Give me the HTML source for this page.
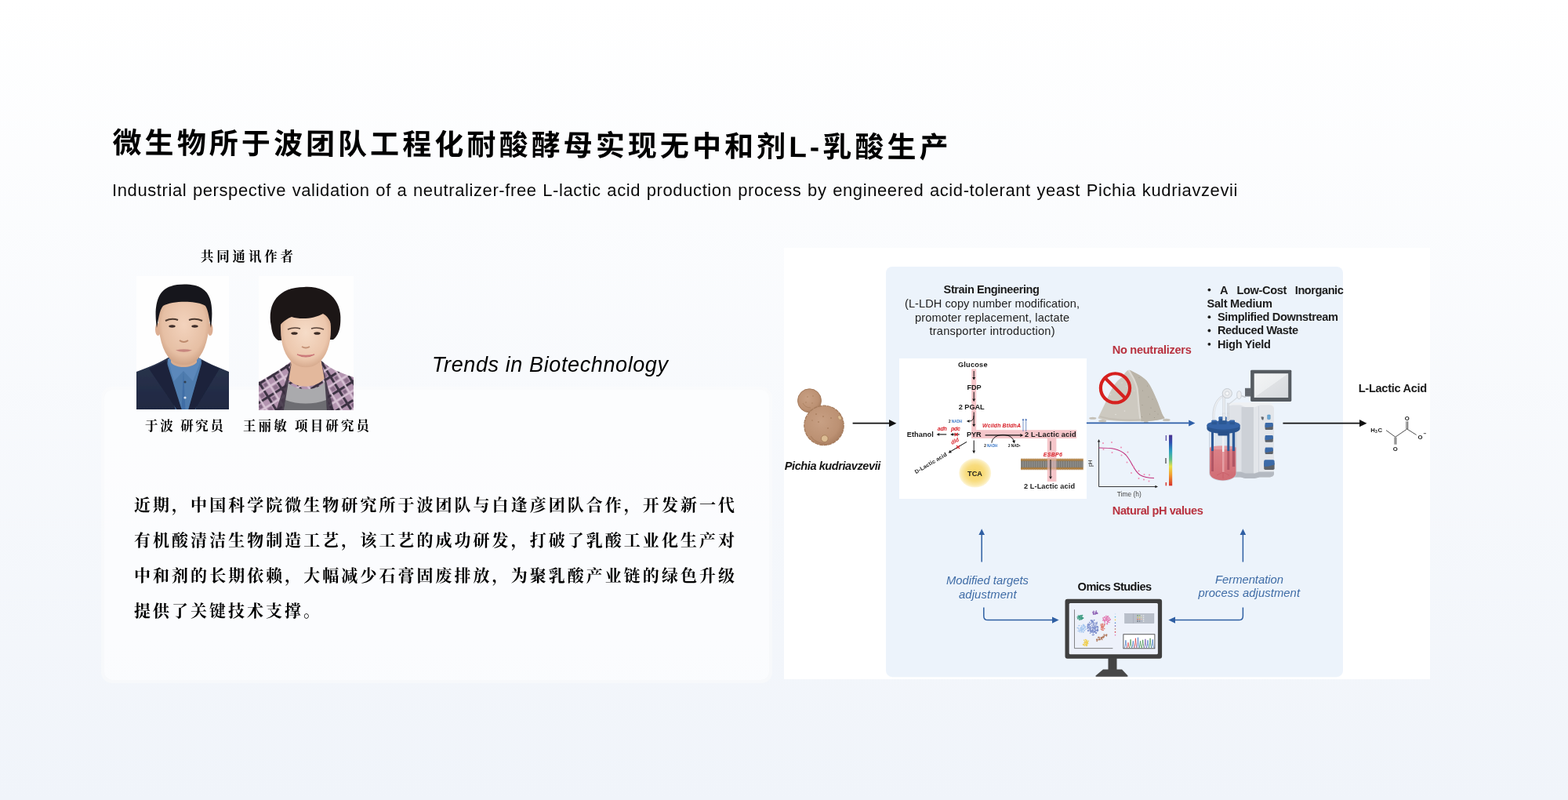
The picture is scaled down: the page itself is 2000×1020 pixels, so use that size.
<!DOCTYPE html>
<html lang="zh-CN">
<head>
<meta charset="utf-8">
<title>微生物所于波团队工程化耐酸酵母实现无中和剂L-乳酸生产</title>
<style>
html,body{margin:0;padding:0}
body{width:2000px;height:1020px;overflow:hidden;position:relative;
  font-family:"Liberation Sans",sans-serif;color:#000;
  background:linear-gradient(180deg,#ffffff 0px,#f0f4fa 1020px)}
.sr{position:absolute;left:0;top:0;width:1px;height:1px;overflow:hidden;opacity:0;font-size:1px;white-space:nowrap}
#sub{position:absolute;left:142.9px;top:230px;margin:0;width:1436px;font-size:22px;line-height:26px;font-weight:400;
  letter-spacing:0.6px;word-spacing:0;text-align:justify;text-align-last:justify;white-space:normal;overflow:visible;will-change:transform;color:#0a0a0a}
#card{position:absolute;left:129px;top:492.5px;width:848px;height:370px;border-radius:14px;
  background:rgba(255,255,255,0.62);border:4px solid rgba(252,252,251,0.5);background-clip:padding-box;box-sizing:content-box}
#fig{position:absolute;left:1000px;top:316px;width:824px;height:550px;background:#fff}
#ov{position:absolute;left:0;top:0}
</style>
</head>
<body>
<div id="card"></div>
<div id="fig"></div>
<h1 class="sr">微生物所于波团队工程化耐酸酵母实现无中和剂L-乳酸生产</h1>
<p id="sub">Industrial perspective validation of a neutralizer-free L-lactic acid production process by engineered acid-tolerant yeast Pichia kudriavzevii</p>
<div class="sr">共同通讯作者 于波 研究员 王丽敏 项目研究员 Trends in Biotechnology
近期，中国科学院微生物研究所于波团队与白逢彦团队合作，开发新一代有机酸清洁生物制造工艺，该工艺的成功研发，打破了乳酸工业化生产对中和剂的长期依赖，大幅减少石膏固废排放，为聚乳酸产业链的绿色升级提供了关键技术支撑。</div>
<div class="sr">Pichia kudriavzevii. Strain Engineering (L-LDH copy number modification, promoter replacement, lactate transporter introduction). Glucose, FDP, 2 PGAL, PYR, Ethanol, adh, pdc, dld, D-Lactic acid, TCA, Wcildh BtldhA, 2 NADH, 2 NAD+, 2 L-Lactic acid, ESBP6. No neutralizers. pH, Time (h). Natural pH values. A Low-Cost Inorganic Salt Medium; Simplified Downstream; Reduced Waste; High Yield. L-Lactic Acid, H3C, O, O-. Modified targets adjustment. Omics Studies. Fermentation process adjustment.</div>
<svg id="ov" width="2000" height="1020" viewBox="0 0 2000 1020">
<text x="143.500" y="195" font-family="&quot;Liberation Sans&quot;, &quot;Noto Sans CJK SC&quot;, sans-serif" font-size="37" font-weight="700" fill="#000" textLength="1066" transform="rotate(0.325 144 195)">微生物所于波团队工程化耐酸酵母实现无中和剂L-乳酸生产</text>
<g font-family="&quot;Liberation Serif&quot;, &quot;Noto Serif CJK SC&quot;, serif" font-size="21" font-weight="700" fill="#000">
<text x="171" y="651" textLength="766">近期，中国科学院微生物研究所于波团队与白逢彦团队合作，开发新一代</text>
<text x="171" y="696" textLength="766">有机酸清洁生物制造工艺，该工艺的成功研发，打破了乳酸工业化生产对</text>
<text x="171" y="741" textLength="766">中和剂的长期依赖，大幅减少石膏固废排放，为聚乳酸产业链的绿色升级</text>
<text x="171" y="786" letter-spacing="3">提供了关键技术支撑。</text>
</g>
<g font-family="&quot;Liberation Serif&quot;, &quot;Noto Serif CJK SC&quot;, serif" font-size="16.500" font-weight="700" fill="#000">
<text x="256" y="333" textLength="118">共同通讯作者</text>
<text x="185" y="549" textLength="100">于波 研究员</text>
<text x="310" y="549" textLength="161">王丽敏 项目研究员</text>
</g>
<text x="551" y="473.800" font-family="&quot;Liberation Sans&quot;, sans-serif" font-size="27" font-style="italic" fill="#000" textLength="301">Trends in Biotechnology</text>
<defs>
<clipPath id="cp1"><rect x="174" y="352" width="118" height="170"/></clipPath>
<clipPath id="cp2"><rect x="330" y="352" width="121" height="171"/></clipPath>
<filter id="bl" x="-10%" y="-10%" width="120%" height="120%"><feGaussianBlur stdDeviation="0.7"/></filter>
<filter id="bl2" x="-10%" y="-10%" width="120%" height="120%"><feGaussianBlur stdDeviation="1.6"/></filter>
<radialGradient id="sk1" cx="0.5" cy="0.45" r="0.6"><stop offset="0" stop-color="#f3d3bd"/><stop offset="0.7" stop-color="#e6bfa4"/><stop offset="1" stop-color="#c99a7c"/></radialGradient>
<radialGradient id="sk2" cx="0.5" cy="0.45" r="0.6"><stop offset="0" stop-color="#f6dcc8"/><stop offset="0.7" stop-color="#ecc7ad"/><stop offset="1" stop-color="#cfa083"/></radialGradient>
<linearGradient id="suit" x1="0" y1="0" x2="0" y2="1"><stop offset="0" stop-color="#2b344d"/><stop offset="1" stop-color="#1f2842"/></linearGradient>
<pattern id="plaid" width="14" height="14" patternUnits="userSpaceOnUse" patternTransform="rotate(-32) scale(1.45)">
<rect width="14" height="14" fill="#b394b0"/>
<rect x="0" y="0" width="14" height="2.1" fill="#3b3142"/>
<rect x="0" y="0" width="2.1" height="14" fill="#3b3142"/>
<rect x="0" y="7" width="14" height="1.6" fill="#d9c4d6"/>
<rect x="7" y="0" width="1.6" height="14" fill="#d9c4d6"/>
<rect x="3.4" y="3.4" width="3" height="3" fill="#7f6580"/>
<rect x="9.4" y="9.4" width="3.6" height="3.6" fill="#8b6f8a"/>
</pattern>
</defs>
<g clip-path="url(#cp1)">
<rect x="174" y="352" width="118" height="170" fill="#fefefe"/>
<g filter="url(#bl)">
<!-- suit -->
<path d="M174 474 C190 468 205 462 216 455 L252 455 C262 462 278 468 292 474 L292 523 L174 523 Z" fill="url(#suit)"/>
<!-- shirt -->
<path d="M214 458 L234 470 L256 458 L262 480 L249 523 L224 523 L212 480 Z" fill="#4f7cae"/>
<path d="M214 458 L222 486 L234 473 L246 486 L257 458 L250 455 L234 468 L218 455 Z" fill="#5b88bb"/>
<path d="M234 473 L236.5 523 L231.5 523 Z" fill="#3f6ea6"/>
<!-- lapels -->
<path d="M212 460 L190 470 L226 523 L232 523 Z" fill="#1a223a"/>
<path d="M258 460 L280 470 L248 523 L240 523 Z" fill="#1a223a"/>
<!-- neck -->
<path d="M218 440 L218 462 C224 470 244 470 251 462 L251 440 Z" fill="#d9ad90"/>
<!-- ears -->
<ellipse cx="201.5" cy="420" rx="3.5" ry="8" fill="#dcae92"/>
<ellipse cx="268" cy="420" rx="3.5" ry="8" fill="#dcae92"/>
<!-- face -->
<path d="M202 405 C201 382 214 372 235 372 C256 372 268 382 267 405 C267 428 262 448 251 459 C244 467 226 467 218 459 C207 448 202 428 202 405 Z" fill="url(#sk1)"/>
<!-- hair -->
<path d="M200 418 C196 392 200 370 218 365 C230 361 250 362 258 368 C271 376 272 396 269 418 C267 408 266 396 262 390 C252 383 220 383 208 390 C203 396 202 408 200 418 Z" fill="#17171a"/>
</g>
<g filter="url(#bl)" opacity="0.9">
<!-- brows / eyes / nose / mouth -->
<path d="M211 409 Q219 405 227 408" stroke="#3a2a22" stroke-width="2" fill="none"/>
<path d="M241 408 Q249 405 258 409" stroke="#3a2a22" stroke-width="2" fill="none"/>
<ellipse cx="219.5" cy="416" rx="4.2" ry="1.7" fill="#2c1f1a"/>
<ellipse cx="248.5" cy="416" rx="4.2" ry="1.7" fill="#2c1f1a"/>
<path d="M229 434 Q234.500 438 240 434" stroke="#b98466" stroke-width="2" fill="none"/>
<path d="M224 446.500 Q234.500 444 245 446.500 Q234.500 451 224 446.500Z" fill="#c4807a"/>
<circle cx="236" cy="487" r="1.6" fill="#2f3a48"/>
<circle cx="236" cy="507" r="1.6" fill="#e8eef6"/>
</g>
</g>
<g clip-path="url(#cp2)">
<rect x="330" y="352" width="121" height="171" fill="#fefefe"/>
<g filter="url(#bl)">
<!-- jacket -->
<path d="M330 487 C345 478 360 470 372 460 L410 460 C420 470 436 476 451 481 L451 524 L330 524 Z" fill="url(#plaid)"/>
<!-- gray top -->
<path d="M366 486 C376 500 408 500 416 484 L420 524 L360 524 Z" fill="#aaaaad"/>
<path d="M364 510 C380 516 400 516 416 510 L418 524 L362 524 Z" fill="#6d6d72"/>
<!-- neck -->
<path d="M372 452 L368 484 C378 496 404 496 414 482 L408 452 Z" fill="#e3b89c"/>
<!-- lapel edges -->
<path d="M372 462 L352 524 L362 524 L368 486 Z" fill="#3a2f40" opacity="0.85"/>
<path d="M410 462 L426 524 L417 524 L414 484 Z" fill="#3a2f40" opacity="0.85"/>
<!-- hair back -->
<path d="M346 416 C340 386 356 366 388 366 C420 364 438 386 434 414 C433 424 429 430 425 433 L355 434 C350 431 347 426 346 416 Z" fill="#1b1517"/>
<!-- face -->
<path d="M358 420 C357 398 370 388 390 388 C410 388 423 398 422 420 C422 440 416 455 406 463 C398 470 382 470 374 463 C364 455 358 440 358 420 Z" fill="url(#sk2)"/>
<!-- fringe -->
<path d="M352 424 C350 400 360 384 376 380 C396 374 418 380 428 398 C432 408 430 420 426 428 C424 414 420 404 412 400 C402 406 384 408 372 404 C362 408 356 414 352 424 Z" fill="#1b1517"/>
</g>
<g filter="url(#bl)" opacity="0.9">
<path d="M367 420 Q375 416.500 383 419" stroke="#4a342c" stroke-width="1.6" fill="none"/>
<path d="M397 419 Q405 416.500 413 420" stroke="#4a342c" stroke-width="1.6" fill="none"/>
<ellipse cx="375.500" cy="425" rx="4.2" ry="1.8" fill="#2a1c18"/>
<ellipse cx="404.500" cy="425" rx="4.2" ry="1.8" fill="#2a1c18"/>
<path d="M385 442 Q390 445 395 442" stroke="#c08c70" stroke-width="2" fill="none"/>
<path d="M379 452 Q390 458 401 452 Q390 454.500 379 452Z" fill="#c76e72" stroke="#c76e72" stroke-width="1.2"/>
</g>
</g>
<defs>
<marker id="ak" viewBox="0 0 10 10" refX="9" refY="5" markerWidth="7" markerHeight="7" orient="auto-start-reverse"><path d="M0 0L10 5L0 10z" fill="#111"/></marker>
<radialGradient id="tca" cx="0.5" cy="0.5" r="0.5"><stop offset="0" stop-color="#f7d564"/><stop offset="0.55" stop-color="#f8dc7e"/><stop offset="0.85" stop-color="#fbeaae"/><stop offset="1" stop-color="#fdf6dc"/></radialGradient>
<linearGradient id="cbar" x1="0" y1="0" x2="0" y2="1"><stop offset="0" stop-color="#4a2f8f"/><stop offset="0.15" stop-color="#2f4fb0"/><stop offset="0.32" stop-color="#2aa0c0"/><stop offset="0.48" stop-color="#5fc08a"/><stop offset="0.62" stop-color="#e8e04a"/><stop offset="0.78" stop-color="#f2a030"/><stop offset="1" stop-color="#d8302a"/></linearGradient>
<radialGradient id="yst" cx="0.42" cy="0.4" r="0.62"><stop offset="0" stop-color="#c8a084"/><stop offset="0.75" stop-color="#bc9173"/><stop offset="1" stop-color="#ab8062"/></radialGradient>
<linearGradient id="liq" x1="0" y1="0" x2="0" y2="1"><stop offset="0" stop-color="#dc7a80"/><stop offset="1" stop-color="#cf636b"/></linearGradient>
<linearGradient id="scr" x1="0" y1="0" x2="1" y2="1"><stop offset="0" stop-color="#f3f4f5"/><stop offset="0.495" stop-color="#eceef0"/><stop offset="0.505" stop-color="#dfe1e4"/><stop offset="1" stop-color="#d6d9dd"/></linearGradient>
<linearGradient id="twr" x1="0" y1="0" x2="1" y2="0"><stop offset="0" stop-color="#e9ecf0"/><stop offset="0.5" stop-color="#dfe3e8"/><stop offset="0.52" stop-color="#c9ced6"/><stop offset="1" stop-color="#d4d8de"/></linearGradient>
<pattern id="memb" width="2.9" height="14.6" patternUnits="userSpaceOnUse" x="1302" y="584.600">
<rect width="2.9" height="14.6" fill="#fff"/>
<rect y="2" width="2.9" height="10.6" fill="#8d8c88"/>
<rect x="1.1" y="3" width="0.7" height="8.6" fill="#6a6966"/>
<circle cx="1.45" cy="1.7" r="1.45" fill="#bf883f" stroke="#7a5220" stroke-width="0.4"/>
<circle cx="1.45" cy="12.900" r="1.45" fill="#bf883f" stroke="#7a5220" stroke-width="0.4"/>
</pattern>
</defs>
<rect x="1130" y="340" width="583" height="523.200" rx="8" fill="#ecf3fb"/>
<rect x="1147" y="457" width="239" height="179" fill="#fff"/>
<g font-family="&quot;Liberation Sans&quot;, sans-serif" font-size="14.600">
<text x="1203.600" y="374.400" font-weight="700" fill="#1c1c1c" textLength="122.400">Strain Engineering</text>
<g fill="#222">
<text x="1154" y="392" textLength="223">(L-LDH copy number modification,</text>
<text x="1167" y="409.600" textLength="197">promoter replacement, lactate</text>
<text x="1185.500" y="426.600" textLength="160">transporter introduction)</text>
</g>
<g font-weight="700" fill="#b8323f">
<text x="1418.800" y="451.400" textLength="101">No neutralizers</text>
<text x="1418.800" y="655.800" textLength="116">Natural pH values</text>
</g>
</g>
<g fill="#1c1c1c"><circle cx="1542.4" cy="369.6" r="1.9"/><circle cx="1542.400" cy="404.200" r="1.900"/><circle cx="1542.400" cy="421.500" r="1.900"/><circle cx="1542.400" cy="438.800" r="1.900"/></g>
<g font-family="&quot;Liberation Sans&quot;, sans-serif" font-size="14.600" font-weight="700" fill="#1c1c1c">
<text x="1556" y="374.500">A</text>
<text x="1577.400" y="374.500" textLength="64">Low-Cost</text>
<text x="1651.800" y="374.500" textLength="62">Inorganic</text>
<text x="1539.500" y="391.700" textLength="83.500">Salt Medium</text>
<text x="1553" y="409" textLength="154">Simplified Downstream</text>
<text x="1553" y="426.300" textLength="103">Reduced Waste</text>
<text x="1553" y="443.600" textLength="68">High Yield</text>
<text x="1732.700" y="500" textLength="87.500">L-Lactic Acid</text>
</g>
<g font-family="&quot;Liberation Sans&quot;, sans-serif" font-size="14.600" font-weight="700" fill="#141414">
<text x="1374.600" y="753.400" textLength="94.500">Omics Studies</text>
<text x="1000.800" y="598.900" font-style="italic" textLength="122.500">Pichia kudriavzevii</text>
</g>
<g font-family="&quot;Liberation Sans&quot;, sans-serif" font-size="14.800" font-style="italic" fill="#3f6ca6">
<text x="1207" y="745.300" textLength="105">Modified targets</text>
<text x="1223" y="762.500" textLength="73.500">adjustment</text>
<text x="1550" y="743.600" textLength="87">Fermentation</text>
<text x="1528.500" y="760.600" textLength="129.500">process adjustment</text>
</g>
<g>
<circle cx="1032.500" cy="510.8" r="15" fill="url(#yst)" stroke="#a47a5b" stroke-width="1"/>
<circle cx="1051" cy="542.4" r="25.2" fill="url(#yst)" stroke="#a47a5b" stroke-width="1.2" stroke-dasharray="5 0.8"/>
<path d="M1034 556 Q1040 565 1052 566" stroke="#a37857" stroke-width="1.2" fill="none" opacity="0.7"/>
<path d="M1024 514 Q1027 520 1034 520" stroke="#a37857" stroke-width="1" fill="none" opacity="0.6"/>
<g fill="#a67b5a" opacity="0.8"><circle cx="1041" cy="528" r="1"/><circle cx="1050" cy="531" r="0.9"/><circle cx="1060" cy="533" r="1"/><circle cx="1044" cy="538" r="0.9"/><circle cx="1056" cy="546" r="1"/><circle cx="1036" cy="536" r="0.8"/><circle cx="1030" cy="506" r="0.8"/><circle cx="1037" cy="505" r="0.8"/><circle cx="1028" cy="513" r="0.8"/><circle cx="1036" cy="514" r="0.8"/></g>
<circle cx="1051.800" cy="559.2" r="4.4" fill="#dcbc93" stroke="#a8805c" stroke-width="1"/>
<ellipse cx="1071" cy="532.500" rx="2" ry="3" fill="#dcbc93" stroke="#a8805c" stroke-width="0.6" transform="rotate(-30 1071 532.500)"/>
</g>
<path d="M1087.6 539.7L1134.0 539.7" stroke="#111" stroke-width="1.7" fill="none"/><path d="M1143.4 539.7L1134.0 544.3L1134.0 535.1z" fill="#111"/>
<path d="M1636.4 539.7L1734.0 539.7" stroke="#111" stroke-width="1.7" fill="none"/><path d="M1743.4 539.7L1734.0 544.3L1734.0 535.1z" fill="#111"/>
<g fill="#f5c6ca">
<rect x="1239.200" y="470.500" width="6" height="88.500"/>
<rect x="1239.200" y="548.200" width="134" height="10.800"/>
<rect x="1335.800" y="559" width="11.600" height="55"/>
</g>
<ellipse cx="1243.700" cy="603.100" rx="20.500" ry="18.500" fill="url(#tca)"/>
<rect x="1302" y="584.600" width="79.750" height="14.600" fill="url(#memb)"/>
<rect x="1335.800" y="584.500" width="11.600" height="15" fill="#f5c6ca" opacity="0.55"/>
<g font-family="&quot;Liberation Sans&quot;, sans-serif" font-size="9.200" font-weight="700" fill="#1a1a1a">
<text x="1222" y="467.800" textLength="37.500">Glucose</text>
<text x="1233.600" y="496.600" textLength="18">FDP</text>
<text x="1222.700" y="521.800" textLength="33">2 PGAL</text>
<text x="1233" y="557.400" textLength="18.700">PYR</text>
<text x="1156.800" y="557.400" textLength="34">Ethanol</text>
<text x="1307" y="557.400" textLength="65.600">2 L-Lactic acid</text>
<text x="1306" y="622.900" textLength="65">2 L-Lactic acid</text>
<text x="1234" y="607.200" textLength="19">TCA</text>
</g>
<path d="M1242.2 473.0L1242.2 480.9" stroke="#111" stroke-width="1.0" fill="none"/><path d="M1242.2 484.5L1240.3 480.9L1244.1 480.9z" fill="#111"/>
<path d="M1242.2 499.7L1242.2 508.6" stroke="#111" stroke-width="1.0" fill="none"/><path d="M1242.2 512.2L1240.3 508.6L1244.1 508.6z" fill="#111"/>
<path d="M1242.2 525.5L1242.2 540.7" stroke="#111" stroke-width="1.0" fill="none"/><path d="M1242.2 544.3L1240.3 540.7L1244.1 540.7z" fill="#111"/>
<path d="M1242.2 561.5L1242.2 574.6" stroke="#111" stroke-width="1.0" fill="none"/><path d="M1242.2 578.2L1240.3 574.6L1244.1 574.6z" fill="#111"/>
<path d="M1256.6 554.9L1301.4 554.9" stroke="#111" stroke-width="1.1" fill="none"/><path d="M1305.2 554.9L1301.4 556.9L1301.4 552.9z" fill="#111"/>
<path d="M1207.2 553.9L1198.2 553.9" stroke="#111" stroke-width="1.1" fill="none"/><path d="M1194.6 553.9L1198.2 552.0L1198.2 555.8z" fill="#111"/>
<path d="M1223.7 553.9L1215.8 553.9" stroke="#111" stroke-width="1.1" fill="none"/><path d="M1212.2 553.9L1215.8 552.0L1215.8 555.8z" fill="#111"/>
<path d="M1233.0 563.4L1212.9 575.4" stroke="#111" stroke-width="1.1" fill="none"/><path d="M1209.6 577.4L1211.8 573.7L1213.9 577.2z" fill="#111"/>
<path d="M1340.0 562.5L1340.0 573.9" stroke="#111" stroke-width="1.0" fill="none"/><path d="M1340.0 574.0L1339.9 573.9L1340.1 573.9z" fill="#111"/>
<path d="M1340.0 586.0L1340.0 607.4" stroke="#111" stroke-width="1.0" fill="none"/><path d="M1340.0 611.0L1338.1 607.4L1341.9 607.4z" fill="#111"/>
<path d="M1242.200 530 Q1242 537 1236.500 537" stroke="#111" stroke-width="0.9" fill="none"/><path d="M1232.800 537l3.700-1.800v3.600z" fill="#111"/>
<path d="M1264.900 564.600 C1266 551.500 1290 551.500 1293 562" stroke="#111" stroke-width="1" fill="none"/><path d="M1293.900 565.400l-2.700-3.200 3.700-.9z" fill="#111"/>
<path d="M1305.0 550.0L1305.0 536.0" stroke="#3b66b0" stroke-width="0.7" fill="none"/><path d="M1305.0 533.4L1306.3 536.0L1303.7 536.0z" fill="#3b66b0"/>
<path d="M1308.7 550.0L1308.7 536.0" stroke="#3b66b0" stroke-width="0.7" fill="none"/><path d="M1308.7 533.4L1310.0 536.0L1307.4 536.0z" fill="#3b66b0"/>
<g font-family="&quot;Liberation Sans&quot;, sans-serif" font-size="7" font-weight="700" font-style="italic" fill="#d8222a">
<text x="1253" y="545" textLength="49">Wcildh BtldhA</text>
<text x="1195.800" y="548.700" textLength="12">adh</text>
<text x="1213" y="548.700" textLength="12">pdc</text>
<text x="1330.800" y="582" textLength="24">ESBP6</text>
<text x="0" y="0" textLength="10.500" transform="translate(1214.500 567) rotate(-30)">dld</text>
</g>
<g stroke="#d8222a" stroke-width="1.1"><path d="M1217.600 552l4 4M1221.600 552l-4 4"/><path d="M1220 568l4 4M1224 568l-4 4"/></g>
<text x="0" y="0" font-family="&quot;Liberation Sans&quot;, sans-serif" font-size="7.100" font-weight="700" fill="#1a1a1a" textLength="46" transform="translate(1168.500 604.200) rotate(-30.500)">D-Lactic acid</text>
<g font-family="Liberation Sans, sans-serif" font-weight="700" font-size="4.6" fill="#111">
<text x="1210" y="538.800">2 <tspan fill="#3b78c8">NADH</tspan></text>
<text x="1255.200" y="570.400">2 <tspan fill="#3b78c8">NADH</tspan></text>
<text x="1286" y="570.400">2 NAD<tspan font-size="3.4" dy="-1.500">+</tspan></text>
</g>
<g>
<path d="M1400.400 533.200 C1404 526 1409 516 1413.200 505.900 C1416 499 1420 492 1423.800 487.400 C1426 484.500 1428.500 483 1430.900 481.200 C1433 478 1435.500 474.500 1437.900 472.400 C1439 471.600 1440.500 471.600 1441.500 471.900 C1445 473.500 1448.500 475.500 1452 477.600 C1456 480 1459.500 482.500 1462.600 485.600 C1465.500 489 1467.800 493 1469.700 497 C1472 502 1474.500 507.500 1476.800 513 C1478.500 517.500 1480.300 522.500 1482 527 C1483 529.500 1484.500 531.500 1485.600 533.200 C1478 536.500 1462 537.300 1444 537.200 C1426 537.100 1408 536.200 1400.400 533.200Z" fill="#cdc9c0"/>
<path d="M1441.500 471.900 C1445 473.500 1448.500 475.500 1452 477.600 C1456 480 1459.500 482.500 1462.600 485.600 C1465.500 489 1467.800 493 1469.700 497 C1472 502 1474.500 507.500 1476.800 513 C1478.500 517.500 1480.300 522.500 1482 527 C1483 529.500 1484.500 531.500 1485.600 533.200 C1478 536 1466 537 1455.500 537.200 C1455 531 1453.500 521 1452.900 512.900 C1452.500 506 1452 500 1451.200 495.300 C1450 490 1448 486 1446.800 482.900 C1445 479 1443 475 1441.500 471.900Z" fill="#bbb5a9"/>
<path d="M1439.500 472 C1442 476 1444.500 480 1446.300 483.500 C1448 487.500 1449.600 491 1450.500 495.500 C1451.300 501 1451.600 506 1452.100 513 C1452.600 520 1453.600 528 1454.400 534" stroke="#dcd9d2" stroke-width="2.200" fill="none"/>
<path d="M1403 531 C1415 535 1440 536.500 1454 535" stroke="#bdb8ae" stroke-width="1.600" fill="none" opacity="0.700"/>
<g fill="#c4c0b7"><ellipse cx="1393.800" cy="533.200" rx="4.600" ry="1.500"/><ellipse cx="1406.200" cy="536.800" rx="5" ry="1.700"/><ellipse cx="1461.800" cy="538.200" rx="3" ry="1.500"/><ellipse cx="1487.800" cy="535.400" rx="4.800" ry="1.600"/></g>
<g fill="#8f897c" opacity="0.750"><circle cx="1457.500" cy="498" r=".55"/><circle cx="1465" cy="506" r=".55"/><circle cx="1470" cy="509" r=".55"/><circle cx="1457" cy="516.500" r=".55"/><circle cx="1468" cy="520" r=".6"/><circle cx="1473" cy="524.500" r=".6"/><circle cx="1466.500" cy="528" r=".55"/><circle cx="1477" cy="528" r=".55"/><circle cx="1456.500" cy="531.500" r=".55"/><circle cx="1472.500" cy="532.500" r=".55"/><circle cx="1453" cy="481.500" r=".5"/><circle cx="1463.500" cy="492" r=".5"/></g>
<g fill="#e6e3dd" opacity="0.900"><circle cx="1416.500" cy="503" r=".8"/><circle cx="1431" cy="488" r=".6"/><circle cx="1436.500" cy="492.500" r=".6"/><circle cx="1434.500" cy="524" r=".8"/><circle cx="1423" cy="528.500" r=".8"/><circle cx="1446.500" cy="498" r=".6"/></g>
</g>
<g stroke="#d6211f" fill="none"><circle cx="1422.500" cy="494.850" r="18.600" stroke-width="4.200"/><path d="M1409.600 481.900L1435.400 507.800" stroke-width="4.200"/></g>
<path d="M1385.9 539.4L1516.2 539.4" stroke="#2d5ea8" stroke-width="1.6" fill="none"/><path d="M1524.4 539.4L1516.2 543.4L1516.2 535.4z" fill="#2d5ea8"/>
<g fill="none">
<path d="M1401.600 563V620.500H1474" stroke="#222" stroke-width="0.9"/>
<path d="M1401.600 560l-1.700 3.600h3.400z" fill="#222"/><path d="M1477 620.500l-3.600-1.700v3.400z" fill="#222"/>
<path d="M1401.600 571 C1418 571 1428 572 1436 580 C1444 589 1446 600 1454 605.500 C1460 609 1466 609.500 1472 609.500" stroke="#c22f7c" stroke-width="1.100"/>
<g fill="#ef8fb5"><circle cx="1407" cy="565" r="1"/><circle cx="1407.500" cy="573" r="1"/><circle cx="1418" cy="564" r="1"/><circle cx="1418.500" cy="577" r="1"/><circle cx="1430" cy="570.500" r="1"/><circle cx="1430.500" cy="580.500" r="1"/><circle cx="1438.500" cy="576.500" r="1"/><circle cx="1437.500" cy="589.500" r="1"/><circle cx="1446" cy="595" r="1"/><circle cx="1443" cy="603" r="1"/><circle cx="1452.500" cy="600.500" r="1"/><circle cx="1452.500" cy="610" r="1"/><circle cx="1459.500" cy="605" r="1"/><circle cx="1459" cy="611.500" r="1"/><circle cx="1466" cy="605.500" r="1"/><circle cx="1465.500" cy="613.500" r="1"/></g>
</g>
<text x="0" y="0" font-family="&quot;Liberation Sans&quot;, sans-serif" font-size="7.500" fill="#333" textLength="8.600" transform="translate(1393 595) rotate(-90)">pH</text>
<text x="1424.700" y="633.400" font-family="&quot;Liberation Sans&quot;, sans-serif" font-size="8.400" fill="#444" textLength="31">Time (h)</text>
<rect x="1491" y="554.600" width="4.200" height="64.700" fill="url(#cbar)"/>
<g fill="#5a4fa8"><rect x="1486.700" y="555" width="1.300" height="7"/></g><g fill="#333"><rect x="1486.200" y="584" width="1.600" height="7" opacity="0.7"/></g><rect x="1486.600" y="615" width="1.400" height="4.300" fill="#d8302a"/>
<g>
<!-- control tower -->
<path d="M1565.300 521.500 C1565.300 517.500 1569 516.200 1574 516.200 L1581 516.200 C1585 516.200 1586 519 1591 519 L1599 519 C1603 519 1604 516.200 1608 516.200 L1617 516.200 C1622 516.200 1625 517.500 1625 521.500 L1625 604 C1625 607 1622 608.500 1618 608.500 L1608 608.500 C1604 608.500 1603 610 1599 610 L1590 610 C1586 610 1585 608.500 1581 608.500 L1565.300 608.500Z" fill="#dfe2e7"/>
<path d="M1583.500 519 L1599 519 L1599 610 L1590 610 C1586 610 1585 608.500 1583.500 608.500Z" fill="#cdd1d7"/>
<path d="M1599 519 C1603 519 1604 516.200 1608 516.200 L1617 516.200 C1622 516.200 1625 517.500 1625 521.500 L1625 604 C1625 607 1622 608.500 1618 608.500 L1608 608.500 C1604 608.500 1603 610 1599 610Z" fill="#e3e6ea"/>
<path d="M1605.500 518 L1605.500 609" stroke="#cfd3d9" stroke-width="0.800"/>
<!-- top face -->
<path d="M1565.300 521.500 C1565.300 515 1570 513.300 1576 513.300 L1614 513.300 C1621 513.300 1625 515 1625 521.500 C1625 517.500 1622 516.200 1617 516.200 L1608 516.200 C1604 516.200 1603 519 1599 519 L1591 519 C1586 519 1585 516.200 1581 516.200 L1574 516.200 C1569 516.200 1565.300 517.500 1565.300 521.500Z" fill="#eff1f3"/>
<!-- base -->
<path d="M1565.300 601.500 L1581 601.500 C1585 601.500 1586 603.500 1590 603.500 L1599 603.500 C1603 603.500 1604 601.500 1608 601.500 L1625 601.500 L1625 604 C1625 607 1622 608.500 1618 608.500 L1608 608.500 C1604 608.500 1603 610 1599 610 L1590 610 C1586 610 1585 608.500 1581 608.500 L1565.300 608.500Z" fill="#b4b9c1"/>
<!-- monitor arm -->
<rect x="1588" y="494.800" width="7.500" height="10.700" fill="#676c73"/>
<path d="M1589 497.500h5.500M1589 500h5.500M1589 502.500h5.500" stroke="#54595f" stroke-width="0.600"/>
<!-- monitor -->
<rect x="1595.100" y="471.800" width="52.200" height="40.200" rx="1.400" fill="#565b61"/>
<rect x="1599.700" y="476.200" width="43.500" height="30.800" fill="url(#scr)"/>
<!-- buttons -->
<g fill="#5d6269"><rect x="1613.600" y="541" width="10.200" height="7" rx="1.300"/><rect x="1613.600" y="557" width="10.200" height="6.800" rx="1.300"/><rect x="1613.600" y="572.500" width="10.200" height="6.600" rx="1.300"/><rect x="1612.200" y="589" width="13.400" height="10" rx="1.800"/></g>
<g fill="#3b6aa8"><path d="M1613.600 540.300q0-1.300 1.300-1.300h7.600q1.300 0 1.300 1.300v3.200l-7 1.600h-3.200z"/><path d="M1613.600 556.200q0-1.300 1.300-1.300h7.600q1.300 0 1.300 1.300v3.200l-7 1.600h-3.200z"/><path d="M1613.600 571.900q0-1.300 1.300-1.300h7.600q1.300 0 1.300 1.300v3.200l-7 1.600h-3.200z"/><path d="M1612.200 588q0-1.800 1.800-1.800h9.800q1.800 0 1.800 1.800v4.600l-8.500 2.200h-4.900z"/></g>
<rect x="1616.700" y="529" width="3.500" height="5.600" rx="0.600" fill="#6aaad8" stroke="#3b7ab0" stroke-width="0.500"/><path d="M1608.400 531.600q2-1 3.800 .4l-1 3.800q-1.600-.3-2-1.600z" fill="#666b72"/>
<!-- tubing -->
<path d="M1548.300 536 C1546.500 521 1552 508 1561 504.500" stroke="#eef0f3" stroke-width="2.200" fill="none"/>
<path d="M1548.300 536 C1546.500 521 1552 508 1561 504.500" stroke="#bfc4cb" stroke-width="0.600" fill="none" transform="translate(-1.100 -0.300)"/><path d="M1548.300 536 C1546.500 521 1552 508 1561 504.500" stroke="#cfd3d9" stroke-width="0.500" fill="none" transform="translate(1.100 0.300)"/>
<rect x="1559.600" y="505" width="3.300" height="34" fill="#e6e9ed" stroke="#c3c8cf" stroke-width="0.400"/>
<rect x="1565.200" y="514" width="2.400" height="24" fill="#dde0e5" stroke="#c3c8cf" stroke-width="0.400"/>
<circle cx="1565.300" cy="501.600" r="6.100" fill="#e9ebee" stroke="#bcc1c8" stroke-width="0.800"/>
<circle cx="1565.300" cy="501.600" r="2.600" fill="#f6f7f8" stroke="#bcc1c8" stroke-width="0.600"/>
<ellipse cx="1580.500" cy="503.600" rx="2.800" ry="5" fill="#eceef1" stroke="#bcc1c8" stroke-width="0.700"/>
<path d="M1583.300 504.500L1588.800 506.500" stroke="#c9cdd3" stroke-width="1.600"/>
<path d="M1567.600 515 C1572 512 1576 509 1578 506.500" stroke="#d5d9de" stroke-width="1.200" fill="none"/>
<!-- vessel glass -->
<path d="M1542.500 549 L1542.500 603 C1542.500 616 1577 616 1577 603 L1577 549Z" fill="#d4dde8" opacity="0.600"/>
<path d="M1542.500 549 L1542.500 603 C1542.500 616 1577 616 1577 603 L1577 549" fill="none" stroke="#b9c3d0" stroke-width="0.600" opacity="0.800"/>
<!-- liquid -->
<path d="M1543 570.500 L1543 603 C1543 615.500 1576.500 615.500 1576.500 603 L1576.500 570.500 C1570 573.500 1550 573.500 1543 570.500Z" fill="url(#liq)" opacity="0.930"/>
<ellipse cx="1559.750" cy="570.800" rx="16.700" ry="2.500" fill="#e39aa0"/>
<!-- rods -->
<g fill="#2d5a98"><rect x="1545" y="550" width="3" height="25"/><rect x="1565.300" y="550" width="3" height="25"/><rect x="1571.800" y="550" width="3.400" height="25"/></g>
<g fill="#a2485a" opacity="0.700"><rect x="1545" y="575" width="3" height="26"/><rect x="1565.300" y="575" width="3" height="24"/><rect x="1571.800" y="575" width="3.400" height="20"/></g>
<rect x="1559" y="550" width="2.500" height="26" fill="#eef1f5"/><rect x="1559" y="576" width="2.500" height="26" fill="#e9a8ad" opacity="0.800"/>
<path d="M1552 606l8-4 8 4M1560 602v8" stroke="#c4545e" stroke-width="0.900" fill="none" opacity="0.600"/>
<!-- lid -->
<path d="M1539.400 542 L1539.400 546.500 C1539.400 555 1581.700 555 1581.700 546.500 L1581.700 542Z" fill="#2a5590"/>
<ellipse cx="1560.550" cy="542" rx="21.150" ry="5.800" fill="#3463a6"/>
<rect x="1553.500" y="550" width="14" height="5.500" rx="1" fill="#27508a"/>
<g fill="#2b5894"><rect x="1545.500" y="535.800" width="6.500" height="5.500" rx="0.800"/><rect x="1554.500" y="531.600" width="10" height="9.500" rx="1"/><rect x="1568.500" y="535.800" width="6.500" height="5.500" rx="0.800"/></g>
<g fill="#3a6aad"><rect x="1545.500" y="535.800" width="6.500" height="2" rx="0.800"/><rect x="1554.500" y="531.600" width="10" height="2.400" rx="1"/><rect x="1568.500" y="535.800" width="6.500" height="2" rx="0.800"/></g>
<rect x="1559.600" y="527" width="3.300" height="9" fill="#e6e9ed" stroke="#c3c8cf" stroke-width="0.400"/>
<rect x="1565.200" y="527" width="2.400" height="10" fill="#dde0e5" stroke="#c3c8cf" stroke-width="0.400"/>
</g>
<g stroke="#222" stroke-width="0.800" fill="none">
<path d="M1768 548.600L1779.800 557.200L1794.700 547L1806.600 554.500"/>
<path d="M1779 557.600V566.700M1780.800 557.600V566.700"/>
<path d="M1793.900 547V537.200M1795.700 547V537.200"/>
<path d="M1815.800 552.700h3.200"/>
</g>
<g font-family="&quot;Liberation Sans&quot;, sans-serif" font-size="7.700" font-weight="700" fill="#1a1a1a">
<text x="1748.200" y="550.700">H</text>
<text x="1754" y="552.300" font-size="5">3</text>
<text x="1757.500" y="550.700">C</text>
<text x="1779.800" y="575.300" text-anchor="middle">O</text>
<text x="1794.700" y="535.600" text-anchor="middle">O</text>
<text x="1811.500" y="560.400" text-anchor="middle">O</text>
</g>
<path d="M1252.2 716.5L1252.2 682.0" stroke="#2f5fa3" stroke-width="1.5" fill="none"/><path d="M1252.2 674.2L1256.0 682.0L1248.4 682.0z" fill="#2f5fa3"/>
<path d="M1585.4 716.5L1585.4 682.0" stroke="#2f5fa3" stroke-width="1.5" fill="none"/><path d="M1585.4 674.2L1589.2 682.0L1581.6 682.0z" fill="#2f5fa3"/>
<g stroke="#2f5fa3" stroke-width="1.500" fill="none"><path d="M1254.800 774.600V785.400Q1254.800 790.600 1260 790.600H1343"/><path d="M1585.400 774.600V785.400Q1585.400 790.600 1580.200 790.600H1498"/></g>
<g fill="#2f5fa3"><path d="M1350.600 790.600l-8.600-4.100v8.200z"/><path d="M1490.400 790.600l8.600-4.100v8.200z"/></g>
<g>
<rect x="1358.500" y="763.800" width="123.600" height="76" rx="3" fill="#3f3f3f"/>
<rect x="1363.700" y="769" width="113.200" height="65.200" rx="1.500" fill="#edf1fa"/>
<rect x="1413.500" y="839" width="11" height="16" fill="#444"/>
<path d="M1407 853.500H1431L1438.500 861.500Q1439 862.700 1437.500 862.700H1398.500Q1397 862.700 1397.500 861.500Z" fill="#484848"/>
<path d="M1370.500 777.200V826.600H1419.400" stroke="#555" stroke-width="0.700" fill="none"/>
</g>
<g fill="#3a9a7f"><circle cx="1377.7" cy="788.4" r=".8"/><circle cx="1377.8" cy="786.8" r=".8"/><circle cx="1376.0" cy="787.0" r=".8"/><circle cx="1381.0" cy="788.2" r=".8"/><circle cx="1380.9" cy="787.9" r=".8"/><circle cx="1379.2" cy="787.7" r=".8"/><circle cx="1374.8" cy="788.8" r=".8"/><circle cx="1379.6" cy="788.4" r=".8"/><circle cx="1375.3" cy="785.0" r=".8"/><circle cx="1376.1" cy="786.5" r=".8"/><circle cx="1379.0" cy="787.3" r=".8"/><circle cx="1379.6" cy="786.1" r=".8"/><circle cx="1379.1" cy="788.1" r=".8"/><circle cx="1376.9" cy="790.2" r=".8"/><circle cx="1379.6" cy="789.6" r=".8"/><circle cx="1376.7" cy="786.0" r=".8"/><circle cx="1377.5" cy="787.2" r=".8"/><circle cx="1379.9" cy="787.9" r=".8"/><circle cx="1377.2" cy="785.6" r=".8"/><circle cx="1377.0" cy="789.7" r=".8"/><circle cx="1376.3" cy="787.9" r=".8"/><circle cx="1379.3" cy="784.8" r=".8"/><circle cx="1378.4" cy="789.8" r=".8"/><circle cx="1374.3" cy="786.9" r=".8"/><circle cx="1378.0" cy="785.8" r=".8"/><circle cx="1379.5" cy="787.3" r=".8"/><circle cx="1375.1" cy="788.8" r=".8"/><circle cx="1380.0" cy="789.2" r=".8"/><circle cx="1381.7" cy="788.1" r=".8"/><circle cx="1378.6" cy="785.0" r=".8"/><circle cx="1379.9" cy="786.2" r=".8"/><circle cx="1377.2" cy="785.1" r=".8"/><circle cx="1375.9" cy="786.4" r=".8"/><circle cx="1380.6" cy="784.6" r=".8"/></g><g fill="#8e62b5"><circle cx="1394.4" cy="781.6" r=".8"/><circle cx="1399.6" cy="782.1" r=".8"/><circle cx="1395.0" cy="779.2" r=".8"/><circle cx="1397.7" cy="780.2" r=".8"/><circle cx="1395.0" cy="782.6" r=".8"/><circle cx="1399.1" cy="781.5" r=".8"/><circle cx="1397.5" cy="781.9" r=".8"/><circle cx="1399.7" cy="782.1" r=".8"/><circle cx="1398.0" cy="782.1" r=".8"/><circle cx="1394.6" cy="782.8" r=".8"/><circle cx="1398.8" cy="782.1" r=".8"/><circle cx="1394.0" cy="780.6" r=".8"/><circle cx="1398.3" cy="779.1" r=".8"/><circle cx="1396.6" cy="782.8" r=".8"/><circle cx="1395.0" cy="783.2" r=".8"/><circle cx="1398.1" cy="781.1" r=".8"/><circle cx="1397.6" cy="782.3" r=".8"/><circle cx="1397.2" cy="783.0" r=".8"/><circle cx="1395.7" cy="780.7" r=".8"/><circle cx="1399.0" cy="781.3" r=".8"/></g><g fill="#a9c9ef"><circle cx="1376.9" cy="804.4" r=".8"/><circle cx="1383.9" cy="800.2" r=".8"/><circle cx="1375.4" cy="801.1" r=".8"/><circle cx="1379.2" cy="800.6" r=".8"/><circle cx="1383.5" cy="798.7" r=".8"/><circle cx="1383.0" cy="798.0" r=".8"/><circle cx="1377.1" cy="803.5" r=".8"/><circle cx="1383.0" cy="804.1" r=".8"/><circle cx="1380.6" cy="801.9" r=".8"/><circle cx="1380.1" cy="803.3" r=".8"/><circle cx="1379.1" cy="802.3" r=".8"/><circle cx="1381.4" cy="801.5" r=".8"/><circle cx="1382.1" cy="803.3" r=".8"/><circle cx="1384.7" cy="802.3" r=".8"/><circle cx="1378.3" cy="800.3" r=".8"/><circle cx="1379.6" cy="804.5" r=".8"/><circle cx="1378.6" cy="802.7" r=".8"/><circle cx="1382.8" cy="797.0" r=".8"/><circle cx="1376.1" cy="802.3" r=".8"/><circle cx="1380.8" cy="802.2" r=".8"/><circle cx="1378.2" cy="803.6" r=".8"/><circle cx="1380.5" cy="799.9" r=".8"/><circle cx="1385.0" cy="802.3" r=".8"/><circle cx="1377.9" cy="801.2" r=".8"/><circle cx="1379.0" cy="801.3" r=".8"/><circle cx="1374.2" cy="800.5" r=".8"/><circle cx="1382.5" cy="798.1" r=".8"/><circle cx="1379.4" cy="804.6" r=".8"/><circle cx="1382.0" cy="805.7" r=".8"/><circle cx="1374.9" cy="800.5" r=".8"/><circle cx="1378.5" cy="803.5" r=".8"/><circle cx="1381.7" cy="796.4" r=".8"/><circle cx="1382.6" cy="797.6" r=".8"/><circle cx="1381.5" cy="797.2" r=".8"/><circle cx="1380.1" cy="805.2" r=".8"/><circle cx="1379.2" cy="802.0" r=".8"/><circle cx="1382.2" cy="802.0" r=".8"/><circle cx="1379.3" cy="806.0" r=".8"/><circle cx="1382.9" cy="800.6" r=".8"/><circle cx="1384.7" cy="799.4" r=".8"/><circle cx="1382.5" cy="800.6" r=".8"/><circle cx="1380.0" cy="803.8" r=".8"/><circle cx="1380.3" cy="803.5" r=".8"/><circle cx="1375.9" cy="797.8" r=".8"/><circle cx="1381.5" cy="798.5" r=".8"/><circle cx="1376.8" cy="797.5" r=".8"/><circle cx="1383.4" cy="803.7" r=".8"/><circle cx="1383.7" cy="798.9" r=".8"/><circle cx="1379.6" cy="797.9" r=".8"/><circle cx="1381.7" cy="805.9" r=".8"/><circle cx="1377.2" cy="805.8" r=".8"/><circle cx="1382.8" cy="800.9" r=".8"/><circle cx="1375.2" cy="804.6" r=".8"/><circle cx="1379.3" cy="799.6" r=".8"/><circle cx="1380.9" cy="802.8" r=".8"/></g><g fill="#7d8fcc"><circle cx="1399.2" cy="795.2" r=".8"/><circle cx="1397.9" cy="806.9" r=".8"/><circle cx="1399.6" cy="799.1" r=".8"/><circle cx="1391.0" cy="805.5" r=".8"/><circle cx="1394.4" cy="800.6" r=".8"/><circle cx="1399.5" cy="798.6" r=".8"/><circle cx="1387.2" cy="798.4" r=".8"/><circle cx="1387.9" cy="803.6" r=".8"/><circle cx="1395.3" cy="796.6" r=".8"/><circle cx="1394.0" cy="804.7" r=".8"/><circle cx="1394.3" cy="807.1" r=".8"/><circle cx="1393.7" cy="805.8" r=".8"/><circle cx="1398.6" cy="806.8" r=".8"/><circle cx="1391.3" cy="804.9" r=".8"/><circle cx="1388.1" cy="795.4" r=".8"/><circle cx="1388.0" cy="804.5" r=".8"/><circle cx="1389.1" cy="799.9" r=".8"/><circle cx="1393.3" cy="799.9" r=".8"/><circle cx="1391.6" cy="801.3" r=".8"/><circle cx="1400.3" cy="800.2" r=".8"/><circle cx="1396.2" cy="805.5" r=".8"/><circle cx="1393.2" cy="793.2" r=".8"/><circle cx="1391.8" cy="805.9" r=".8"/><circle cx="1388.2" cy="797.1" r=".8"/><circle cx="1398.0" cy="804.3" r=".8"/><circle cx="1394.0" cy="804.5" r=".8"/><circle cx="1394.7" cy="793.5" r=".8"/><circle cx="1388.3" cy="796.9" r=".8"/><circle cx="1397.8" cy="796.9" r=".8"/><circle cx="1390.4" cy="795.8" r=".8"/><circle cx="1388.2" cy="799.4" r=".8"/><circle cx="1389.3" cy="802.0" r=".8"/><circle cx="1387.1" cy="801.3" r=".8"/><circle cx="1391.9" cy="791.4" r=".8"/><circle cx="1397.0" cy="798.4" r=".8"/><circle cx="1387.5" cy="796.5" r=".8"/><circle cx="1395.2" cy="797.5" r=".8"/><circle cx="1397.2" cy="804.2" r=".8"/><circle cx="1396.8" cy="801.8" r=".8"/><circle cx="1399.1" cy="803.4" r=".8"/><circle cx="1395.4" cy="791.0" r=".8"/><circle cx="1397.3" cy="806.6" r=".8"/><circle cx="1392.8" cy="797.4" r=".8"/><circle cx="1399.2" cy="793.5" r=".8"/><circle cx="1395.3" cy="809.3" r=".8"/><circle cx="1390.2" cy="803.8" r=".8"/><circle cx="1400.4" cy="799.4" r=".8"/><circle cx="1396.3" cy="805.0" r=".8"/><circle cx="1390.3" cy="799.5" r=".8"/><circle cx="1395.2" cy="804.6" r=".8"/><circle cx="1393.9" cy="799.1" r=".8"/><circle cx="1389.8" cy="798.0" r=".8"/><circle cx="1397.7" cy="800.6" r=".8"/><circle cx="1390.6" cy="795.4" r=".8"/><circle cx="1400.6" cy="803.8" r=".8"/><circle cx="1395.7" cy="790.6" r=".8"/><circle cx="1396.6" cy="802.7" r=".8"/><circle cx="1400.0" cy="802.1" r=".8"/><circle cx="1393.7" cy="802.9" r=".8"/><circle cx="1388.0" cy="804.4" r=".8"/><circle cx="1395.3" cy="796.0" r=".8"/><circle cx="1398.0" cy="807.5" r=".8"/><circle cx="1388.7" cy="796.6" r=".8"/><circle cx="1395.1" cy="800.9" r=".8"/><circle cx="1392.4" cy="794.6" r=".8"/><circle cx="1400.2" cy="804.1" r=".8"/><circle cx="1389.8" cy="793.6" r=".8"/><circle cx="1399.7" cy="804.5" r=".8"/><circle cx="1400.0" cy="803.6" r=".8"/><circle cx="1390.4" cy="801.5" r=".8"/><circle cx="1387.5" cy="796.9" r=".8"/><circle cx="1393.8" cy="802.9" r=".8"/><circle cx="1391.0" cy="799.3" r=".8"/><circle cx="1395.9" cy="802.1" r=".8"/><circle cx="1396.6" cy="801.2" r=".8"/><circle cx="1392.7" cy="804.4" r=".8"/><circle cx="1394.2" cy="795.3" r=".8"/><circle cx="1391.4" cy="800.0" r=".8"/><circle cx="1393.6" cy="800.7" r=".8"/><circle cx="1394.0" cy="800.8" r=".8"/><circle cx="1393.5" cy="793.2" r=".8"/><circle cx="1395.7" cy="805.8" r=".8"/><circle cx="1395.7" cy="799.0" r=".8"/><circle cx="1395.8" cy="794.6" r=".8"/><circle cx="1387.5" cy="800.3" r=".8"/><circle cx="1390.3" cy="804.1" r=".8"/><circle cx="1391.3" cy="791.0" r=".8"/><circle cx="1390.5" cy="807.3" r=".8"/><circle cx="1392.5" cy="792.8" r=".8"/><circle cx="1390.8" cy="802.9" r=".8"/><circle cx="1396.0" cy="801.0" r=".8"/><circle cx="1399.4" cy="803.5" r=".8"/><circle cx="1393.9" cy="803.3" r=".8"/><circle cx="1399.6" cy="804.5" r=".8"/><circle cx="1397.9" cy="794.4" r=".8"/><circle cx="1393.4" cy="804.1" r=".8"/><circle cx="1392.8" cy="805.9" r=".8"/><circle cx="1396.4" cy="805.0" r=".8"/><circle cx="1393.4" cy="809.5" r=".8"/><circle cx="1398.9" cy="798.8" r=".8"/><circle cx="1394.2" cy="809.6" r=".8"/><circle cx="1392.6" cy="804.9" r=".8"/><circle cx="1398.0" cy="800.0" r=".8"/><circle cx="1389.3" cy="801.0" r=".8"/><circle cx="1395.4" cy="806.2" r=".8"/><circle cx="1397.2" cy="800.1" r=".8"/><circle cx="1397.5" cy="803.0" r=".8"/><circle cx="1394.7" cy="800.3" r=".8"/><circle cx="1393.0" cy="803.9" r=".8"/><circle cx="1389.8" cy="796.6" r=".8"/><circle cx="1394.0" cy="792.4" r=".8"/><circle cx="1392.6" cy="791.1" r=".8"/><circle cx="1391.2" cy="803.2" r=".8"/><circle cx="1396.3" cy="799.7" r=".8"/><circle cx="1393.1" cy="792.6" r=".8"/><circle cx="1400.2" cy="802.4" r=".8"/><circle cx="1398.2" cy="795.3" r=".8"/><circle cx="1393.4" cy="791.4" r=".8"/><circle cx="1397.1" cy="805.1" r=".8"/><circle cx="1387.5" cy="799.8" r=".8"/></g><g fill="#e27ab3"><circle cx="1412.8" cy="786.0" r=".8"/><circle cx="1406.8" cy="788.0" r=".8"/><circle cx="1409.4" cy="786.5" r=".8"/><circle cx="1411.3" cy="791.2" r=".8"/><circle cx="1413.2" cy="792.7" r=".8"/><circle cx="1415.0" cy="793.5" r=".8"/><circle cx="1407.4" cy="789.0" r=".8"/><circle cx="1408.2" cy="787.4" r=".8"/><circle cx="1411.0" cy="790.5" r=".8"/><circle cx="1412.5" cy="786.2" r=".8"/><circle cx="1407.5" cy="790.4" r=".8"/><circle cx="1410.6" cy="789.6" r=".8"/><circle cx="1411.0" cy="788.1" r=".8"/><circle cx="1413.4" cy="791.6" r=".8"/><circle cx="1410.9" cy="788.4" r=".8"/><circle cx="1410.9" cy="785.2" r=".8"/><circle cx="1408.2" cy="790.6" r=".8"/><circle cx="1406.9" cy="791.1" r=".8"/><circle cx="1411.6" cy="786.5" r=".8"/><circle cx="1410.5" cy="789.6" r=".8"/><circle cx="1412.6" cy="792.4" r=".8"/><circle cx="1411.1" cy="787.9" r=".8"/><circle cx="1410.8" cy="790.3" r=".8"/><circle cx="1413.5" cy="791.4" r=".8"/><circle cx="1409.2" cy="786.7" r=".8"/><circle cx="1410.0" cy="788.2" r=".8"/><circle cx="1407.8" cy="790.1" r=".8"/><circle cx="1409.7" cy="790.8" r=".8"/><circle cx="1412.8" cy="789.2" r=".8"/><circle cx="1416.3" cy="789.8" r=".8"/><circle cx="1414.6" cy="790.9" r=".8"/><circle cx="1413.5" cy="785.7" r=".8"/><circle cx="1408.9" cy="791.3" r=".8"/><circle cx="1412.5" cy="795.6" r=".8"/><circle cx="1412.2" cy="794.3" r=".8"/><circle cx="1413.5" cy="793.3" r=".8"/><circle cx="1412.7" cy="790.0" r=".8"/><circle cx="1412.7" cy="787.2" r=".8"/><circle cx="1414.5" cy="787.6" r=".8"/><circle cx="1411.8" cy="795.5" r=".8"/><circle cx="1410.6" cy="790.6" r=".8"/><circle cx="1414.7" cy="790.6" r=".8"/><circle cx="1408.7" cy="791.3" r=".8"/><circle cx="1413.0" cy="792.7" r=".8"/><circle cx="1409.2" cy="795.0" r=".8"/><circle cx="1415.7" cy="790.5" r=".8"/><circle cx="1412.0" cy="789.2" r=".8"/><circle cx="1415.1" cy="788.5" r=".8"/><circle cx="1413.3" cy="789.0" r=".8"/><circle cx="1409.1" cy="792.7" r=".8"/><circle cx="1415.1" cy="790.5" r=".8"/><circle cx="1409.1" cy="793.0" r=".8"/></g><g fill="#e07c72"><circle cx="1406.4" cy="799.8" r=".8"/><circle cx="1408.7" cy="801.6" r=".8"/><circle cx="1405.9" cy="803.5" r=".8"/><circle cx="1406.5" cy="801.2" r=".8"/><circle cx="1405.4" cy="798.9" r=".8"/><circle cx="1404.5" cy="802.3" r=".8"/><circle cx="1408.5" cy="796.2" r=".8"/><circle cx="1404.6" cy="795.7" r=".8"/><circle cx="1408.5" cy="797.8" r=".8"/><circle cx="1406.4" cy="798.2" r=".8"/><circle cx="1406.3" cy="796.0" r=".8"/><circle cx="1406.5" cy="795.3" r=".8"/><circle cx="1406.4" cy="799.8" r=".8"/><circle cx="1407.3" cy="798.4" r=".8"/><circle cx="1404.9" cy="799.4" r=".8"/><circle cx="1405.8" cy="802.8" r=".8"/><circle cx="1407.8" cy="798.7" r=".8"/><circle cx="1405.7" cy="797.1" r=".8"/><circle cx="1404.9" cy="798.0" r=".8"/><circle cx="1407.0" cy="800.4" r=".8"/><circle cx="1407.2" cy="803.4" r=".8"/><circle cx="1405.3" cy="799.0" r=".8"/><circle cx="1409.0" cy="796.3" r=".8"/><circle cx="1405.6" cy="799.5" r=".8"/><circle cx="1406.8" cy="800.1" r=".8"/><circle cx="1406.1" cy="800.0" r=".8"/><circle cx="1406.6" cy="801.1" r=".8"/><circle cx="1404.0" cy="797.1" r=".8"/><circle cx="1406.5" cy="796.2" r=".8"/><circle cx="1404.8" cy="800.7" r=".8"/></g><g fill="#b27d63"><circle cx="1402.1" cy="815.4" r=".8"/><circle cx="1408.3" cy="812.0" r=".8"/><circle cx="1407.2" cy="811.8" r=".8"/><circle cx="1399.1" cy="815.6" r=".8"/><circle cx="1407.0" cy="811.2" r=".8"/><circle cx="1404.6" cy="814.5" r=".8"/><circle cx="1401.1" cy="815.8" r=".8"/><circle cx="1411.8" cy="809.2" r=".8"/><circle cx="1405.5" cy="812.5" r=".8"/><circle cx="1411.2" cy="810.7" r=".8"/><circle cx="1408.9" cy="810.1" r=".8"/><circle cx="1405.0" cy="813.0" r=".8"/><circle cx="1399.2" cy="817.4" r=".8"/><circle cx="1408.2" cy="809.1" r=".8"/><circle cx="1408.3" cy="811.3" r=".8"/><circle cx="1407.0" cy="812.7" r=".8"/><circle cx="1398.9" cy="815.4" r=".8"/><circle cx="1411.0" cy="809.4" r=".8"/><circle cx="1401.0" cy="812.8" r=".8"/><circle cx="1399.7" cy="815.9" r=".8"/><circle cx="1411.5" cy="810.7" r=".8"/><circle cx="1405.8" cy="815.5" r=".8"/><circle cx="1402.7" cy="812.9" r=".8"/><circle cx="1407.4" cy="812.9" r=".8"/><circle cx="1400.9" cy="813.0" r=".8"/><circle cx="1406.2" cy="812.9" r=".8"/><circle cx="1399.4" cy="815.2" r=".8"/><circle cx="1402.6" cy="814.9" r=".8"/><circle cx="1404.6" cy="813.1" r=".8"/><circle cx="1403.4" cy="815.5" r=".8"/><circle cx="1410.8" cy="809.8" r=".8"/><circle cx="1408.7" cy="810.0" r=".8"/><circle cx="1405.3" cy="814.1" r=".8"/><circle cx="1411.1" cy="809.6" r=".8"/><circle cx="1404.7" cy="813.4" r=".8"/><circle cx="1398.8" cy="815.8" r=".8"/><circle cx="1402.0" cy="815.0" r=".8"/><circle cx="1401.3" cy="812.2" r=".8"/><circle cx="1405.1" cy="813.3" r=".8"/><circle cx="1402.6" cy="815.6" r=".8"/></g><g fill="#efcf52"><circle cx="1384.2" cy="818.2" r=".8"/><circle cx="1386.0" cy="816.4" r=".8"/><circle cx="1383.2" cy="819.6" r=".8"/><circle cx="1387.0" cy="819.2" r=".8"/><circle cx="1385.7" cy="818.1" r=".8"/><circle cx="1385.6" cy="822.9" r=".8"/><circle cx="1383.7" cy="823.3" r=".8"/><circle cx="1383.3" cy="819.6" r=".8"/><circle cx="1385.3" cy="821.9" r=".8"/><circle cx="1382.7" cy="816.3" r=".8"/><circle cx="1386.4" cy="821.4" r=".8"/><circle cx="1385.9" cy="823.4" r=".8"/><circle cx="1385.4" cy="820.1" r=".8"/><circle cx="1387.2" cy="820.4" r=".8"/><circle cx="1388.2" cy="817.4" r=".8"/><circle cx="1384.4" cy="815.6" r=".8"/><circle cx="1387.0" cy="818.7" r=".8"/><circle cx="1386.6" cy="823.1" r=".8"/><circle cx="1384.9" cy="819.1" r=".8"/><circle cx="1383.6" cy="817.7" r=".8"/><circle cx="1383.3" cy="821.1" r=".8"/><circle cx="1385.0" cy="819.7" r=".8"/><circle cx="1384.5" cy="821.7" r=".8"/><circle cx="1386.1" cy="819.3" r=".8"/><circle cx="1386.6" cy="819.3" r=".8"/><circle cx="1382.5" cy="822.4" r=".8"/><circle cx="1386.1" cy="817.4" r=".8"/><circle cx="1387.6" cy="820.4" r=".8"/><circle cx="1382.0" cy="822.3" r=".8"/><circle cx="1385.7" cy="821.6" r=".8"/><circle cx="1385.3" cy="819.3" r=".8"/><circle cx="1381.6" cy="821.5" r=".8"/><circle cx="1385.0" cy="819.0" r=".8"/><circle cx="1385.7" cy="819.8" r=".8"/><circle cx="1386.6" cy="818.7" r=".8"/><circle cx="1384.8" cy="815.8" r=".8"/></g>
<circle cx="1422.500" cy="782.7" r=".8" fill="#cfe0f5"/><circle cx="1422.500" cy="786.6" r=".8" fill="#59b8d8"/><circle cx="1422.500" cy="790.4" r=".8" fill="#efd24e"/><circle cx="1422.500" cy="794.3" r=".8" fill="#3f7fc8"/><circle cx="1422.500" cy="798.1" r=".8" fill="#7a5aa8"/><circle cx="1422.500" cy="802.0" r=".8" fill="#b06a52"/><circle cx="1422.500" cy="805.9" r=".8" fill="#d8404a"/><circle cx="1422.500" cy="809.7" r=".8" fill="#e86aa8"/>
<g>
<rect x="1434.700" y="782.400" width="37.200" height="12.200" fill="#b9bfca" stroke="#a3a9b5" stroke-width="0.500"/>
<rect x="1445" y="782.400" width="0.600" height="12.200" fill="#a3a9b5"/>
<g><rect x="1450.500" y="784.200" width="1.200" height="1.200" fill="#4a8a3c"/><rect x="1453" y="784.200" width="1.200" height="1.200" fill="#7fb84a"/><rect x="1455.500" y="784.200" width="1.200" height="1.200" fill="#e8e8e0"/><rect x="1458" y="784.200" width="1.200" height="1.200" fill="#f3f3ef"/>
<rect x="1450.500" y="786.600" width="1.200" height="1.200" fill="#e0c030"/><rect x="1453" y="786.600" width="1.200" height="1.200" fill="#efd85a"/><rect x="1455.500" y="786.600" width="1.200" height="1.200" fill="#f2e6a0"/><rect x="1458" y="786.600" width="1.200" height="1.200" fill="#f3f3ef"/>
<rect x="1450.500" y="789" width="1.200" height="1.200" fill="#d85030"/><rect x="1453" y="789" width="1.200" height="1.200" fill="#e88050"/><rect x="1455.500" y="789" width="1.200" height="1.200" fill="#f0c0a8"/><rect x="1458" y="789" width="1.200" height="1.200" fill="#f3f3ef"/>
<rect x="1450.500" y="791.400" width="1.200" height="1.200" fill="#303848"/><rect x="1453" y="791.400" width="1.200" height="1.200" fill="#586070"/><rect x="1455.500" y="791.400" width="1.200" height="1.200" fill="#a0a8b8"/><rect x="1458" y="791.400" width="1.200" height="1.200" fill="#f3f3ef"/></g>
<rect x="1432.900" y="808.800" width="40" height="18" fill="#fff" stroke="#333" stroke-width="0.800"/>
</g>
<path d="M1433.8 826.300Q1435.1 826.300 1435.9 816.3Q1436.7 826.300 1438.0 826.300" stroke="#3a6fc0" stroke-width="0.700" fill="none"/><path d="M1436.9 826.300Q1438.2 826.300 1439.0 819.3Q1439.8 826.300 1441.1 826.300" stroke="#d8303a" stroke-width="0.700" fill="none"/><path d="M1440.0 826.300Q1441.3 826.300 1442.1 815.3Q1442.9 826.300 1444.2 826.300" stroke="#3a8a4a" stroke-width="0.700" fill="none"/><path d="M1443.2 826.300Q1444.5 826.300 1445.3 817.3Q1446.1 826.300 1447.4 826.300" stroke="#3a6fc0" stroke-width="0.700" fill="none"/><path d="M1446.3 826.300Q1447.6 826.300 1448.4 813.8Q1449.2 826.300 1450.5 826.300" stroke="#d8303a" stroke-width="0.700" fill="none"/><path d="M1449.4 826.300Q1450.7 826.300 1451.5 812.8Q1452.3 826.300 1453.6 826.300" stroke="#3a6fc0" stroke-width="0.700" fill="none"/><path d="M1452.5 826.300Q1453.8 826.300 1454.6 817.3Q1455.4 826.300 1456.7 826.300" stroke="#3a8a4a" stroke-width="0.700" fill="none"/><path d="M1455.6 826.300Q1456.9 826.300 1457.7 815.8Q1458.5 826.300 1459.8 826.300" stroke="#3a8a4a" stroke-width="0.700" fill="none"/><path d="M1458.8 826.300Q1460.1 826.300 1460.9 814.8Q1461.7 826.300 1463.0 826.300" stroke="#6a4aa8" stroke-width="0.700" fill="none"/><path d="M1461.9 826.300Q1463.2 826.300 1464.0 816.3Q1464.8 826.300 1466.1 826.300" stroke="#3a6fc0" stroke-width="0.700" fill="none"/><path d="M1465.0 826.300Q1466.3 826.300 1467.1 813.8Q1467.9 826.300 1469.2 826.300" stroke="#3a8a4a" stroke-width="0.700" fill="none"/><path d="M1468.1 826.300Q1469.4 826.300 1470.2 815.3Q1471.0 826.300 1472.3 826.300" stroke="#3a6fc0" stroke-width="0.700" fill="none"/>
</svg>
</body>
</html>
